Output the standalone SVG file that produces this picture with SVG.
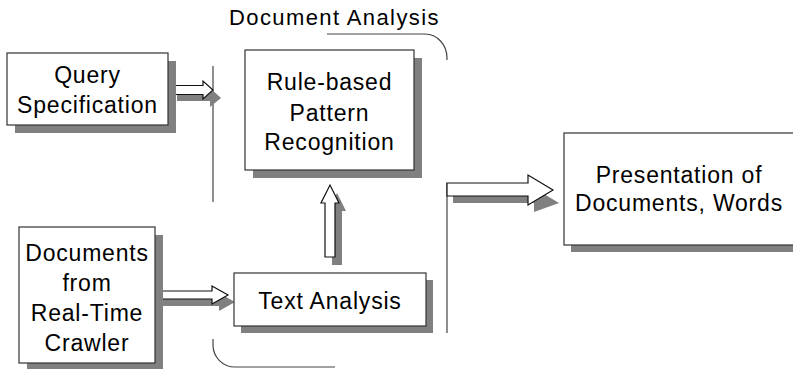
<svg xmlns="http://www.w3.org/2000/svg" width="793" height="369" viewBox="0 0 793 369">
<style>
.box{fill:#fff;stroke:#333;stroke-width:1.2}
.shadow{fill:#808080;stroke:none}
.arrow{fill:#fff;stroke:#111;stroke-width:1.2;stroke-linejoin:miter}
.line{fill:none;stroke:#444;stroke-width:1.2}
text{font-family:"Liberation Sans",Arial,Helvetica,sans-serif;font-size:23px;fill:#000;text-anchor:middle;letter-spacing:0.8px}
.title{font-size:22px;letter-spacing:1.4px;text-anchor:start}
</style>
<rect width="793" height="369" fill="#fff"/>
<g id="connectors">
  <path class="line" d="M213,66 V202"/>
  <path class="line" d="M447,183 V333"/>
  <path class="line" d="M327,34 H425 A22,24 0 0 1 447,58 V60"/>
  <path class="line" d="M213,339 V345 A22,22 0 0 0 235,367 H335"/>
  <g id="arrow-query">
    <path class="shadow" d="M177,93 H210 V88 L221,98 L210,107 V101 H177 Z"/>
    <path class="arrow" d="M170,85.5 H203 V81 L213,90 L203,99 V94.5 H170 Z"/>
  </g>
  <g id="arrow-docs">
    <path class="shadow" d="M162,298 H219 V293 L235,302 L219,311 V306 H162 Z"/>
    <path class="arrow" d="M155,291 H212 V286 L228,295 L212,304 V299 H155 Z"/>
  </g>
  <g id="arrow-up">
    <path class="shadow" d="M332,265 V211 H328 L337,193 L346,211 H342 V265 Z"/>
    <path class="arrow" d="M325,257 V203 H321 L330,185 L339,203 H335 V257 Z"/>
  </g>
  <g id="arrow-right">
    <path class="shadow" d="M453,196 H534 V188 L559,203 L534,212 V203 H453 Z"/>
    <path class="arrow" d="M447,183 H528 V175 L553,190 L528,205 V196 H447 Z"/>
  </g>
</g>
<text class="title" x="229" y="25">Document Analysis</text>
<g id="query">
  <rect class="shadow" x="15" y="61" width="161" height="72"/>
  <rect class="box" x="7" y="53" width="161" height="72"/>
  <text x="87.5" y="83">Query</text>
  <text x="87.5" y="113">Specification</text>
</g>
<g id="rule">
  <rect class="shadow" x="253" y="58" width="169" height="120"/>
  <rect class="box" x="245" y="50" width="169" height="120"/>
  <text x="329.5" y="90">Rule-based</text>
  <text x="329.5" y="120.5">Pattern</text>
  <text x="329.5" y="150">Recognition</text>
</g>
<g id="docs">
  <rect class="shadow" x="27" y="235" width="136" height="136"/>
  <rect class="box" x="19" y="227" width="136" height="136"/>
  <text x="87" y="261">Documents</text>
  <text x="87" y="291">from</text>
  <text x="87" y="321">Real-Time</text>
  <text x="87" y="351">Crawler</text>
</g>
<g id="text-analysis">
  <rect class="shadow" x="241" y="280" width="192" height="53"/>
  <rect class="box" x="234" y="273" width="192" height="53"/>
  <text x="330" y="309">Text Analysis</text>
</g>
<g id="presentation">
  <rect class="shadow" x="571" y="140" width="240" height="112"/>
  <rect class="box" x="564" y="133" width="240" height="112"/>
  <text x="679" y="183">Presentation of</text>
  <text x="679" y="211">Documents, Words</text>
</g>
</svg>
